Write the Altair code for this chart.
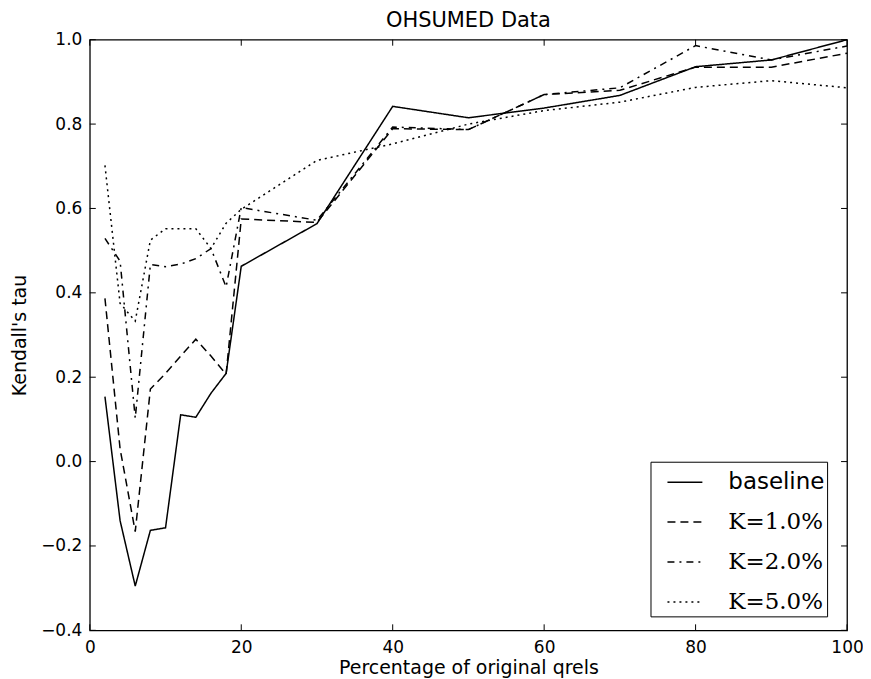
import altair as alt
import pandas as pd

# ---- data ----
x_pct = [2, 4, 6, 8, 10, 12, 14, 16, 18, 20, 30, 40, 50, 60, 70, 80, 90, 100]
baseline = [0.154, -0.140, -0.295, -0.163, -0.157, 0.111, 0.105, 0.162, 0.209, 0.463,
            0.564, 0.842, 0.815, 0.838, 0.868, 0.936, 0.952, 1.000]
k_1 = [0.387, 0.030, -0.166, 0.172, 0.209, 0.250, 0.290, 0.250, 0.207, 0.575,
       0.567, 0.789, 0.787, 0.870, 0.880, 0.935, 0.935, 0.968]
k_2 = [0.529, 0.475, 0.103, 0.467, 0.462, 0.468, 0.481, 0.505, 0.414, 0.602,
       0.572, 0.793, 0.787, 0.870, 0.886, 0.986, 0.952, 0.985]
k_5 = [0.702, 0.375, 0.333, 0.525, 0.552, 0.552, 0.552, 0.505, 0.565, 0.598,
       0.714, 0.753, 0.800, 0.832, 0.852, 0.887, 0.903, 0.886]

series_names = ["baseline", "K=1.0%", "K=2.0%", "K=5.0%"]
dash_styles = [[1, 0], [8, 5], [7, 5, 2, 5], [2, 4]]
x_ticks = [0, 20, 40, 60, 80, 100]
y_ticks = [-0.4, -0.2, 0.0, 0.2, 0.4, 0.6, 0.8, 1.0]

rows = []
for name, vals in zip(series_names, [baseline, k_1, k_2, k_5]):
    for xv, yv in zip(x_pct, vals):
        rows.append({"pct": xv, "tau": yv, "series": name})
df = pd.DataFrame(rows)
xt = pd.DataFrame({"pct": x_ticks})
yt = pd.DataFrame({"tau": y_ticks})

W, H = 759, 592
TL = 6
FONT = "DejaVu Sans"

xscale = alt.Scale(domain=[0, 100], nice=False, zero=False)
yscale = alt.Scale(domain=[-0.4, 1.0], nice=False, zero=False)
xaxis = alt.Axis(values=x_ticks, title="Percentage of original qrels",
                 format="d", labelPadding=9, titlePadding=3, grid=False,
                 ticks=False, domain=False, labelFlush=False)
yaxis = alt.Axis(values=y_ticks, title="Kendall's tau", format=".1f",
                 labelPadding=8, titlePadding=11, grid=False,
                 ticks=False, domain=False, labelFlush=False)

lines = alt.Chart(df).mark_line(strokeWidth=1.5, color="black").encode(
    x=alt.X("pct:Q", scale=xscale, axis=xaxis),
    y=alt.Y("tau:Q", scale=yscale, axis=yaxis),
    strokeDash=alt.StrokeDash(
        "series:N",
        scale=alt.Scale(domain=series_names, range=dash_styles),
        legend=alt.Legend(
            title=None, orient="none", legendX=562, legendY=423,
            strokeColor="black", fillColor="white", padding=2,
            symbolType="stroke", symbolSize=1225, symbolStrokeWidth=1.5,
            symbolStrokeColor="black", symbolOffset=14,
            labelFontSize=23, labelColor="black", labelOffset=25,
            labelFont={"expr": "datum.label == 'baseline' ? 'DejaVu Sans' : 'DejaVu Serif'"},
            labelExpr="datum.label + '\u00a0\u00a0\u2009'",
            rowPadding=9, cornerRadius=0,
        ),
    ),
)

tick_bottom = alt.Chart(xt).mark_rule(color="black", strokeWidth=1).encode(
    x=alt.X("pct:Q", scale=xscale, axis=xaxis), y=alt.value(H), y2=alt.value(H - TL))
tick_top = alt.Chart(xt).mark_rule(color="black", strokeWidth=1).encode(
    x=alt.X("pct:Q", scale=xscale, axis=xaxis), y=alt.value(0), y2=alt.value(TL))
tick_left = alt.Chart(yt).mark_rule(color="black", strokeWidth=1).encode(
    y=alt.Y("tau:Q", scale=yscale, axis=yaxis), x=alt.value(0), x2=alt.value(TL))
tick_right = alt.Chart(yt).mark_rule(color="black", strokeWidth=1).encode(
    y=alt.Y("tau:Q", scale=yscale, axis=yaxis), x=alt.value(W), x2=alt.value(W - TL))

chart = alt.layer(lines, tick_bottom, tick_top, tick_left, tick_right).properties(
    width=W, height=H,
    title=alt.TitleParams("OHSUMED Data", fontSize=21, fontWeight="normal",
                          font=FONT, color="black", anchor="middle", offset=0),
    autosize=alt.AutoSizeParams(type="none"),
    padding={"left": 82, "top": 31, "right": 16, "bottom": 48},
).configure_view(
    stroke="black", strokeWidth=1.3
).configure_axis(
    labelFont=FONT, labelFontSize=17, labelColor="black",
    titleFont=FONT, titleFontSize=19, titleFontWeight="normal", titleColor="black",
).configure_legend(
    labelFont=FONT
)

chart.save("out.html", embed_options={"renderer": "svg", "actions": False})
